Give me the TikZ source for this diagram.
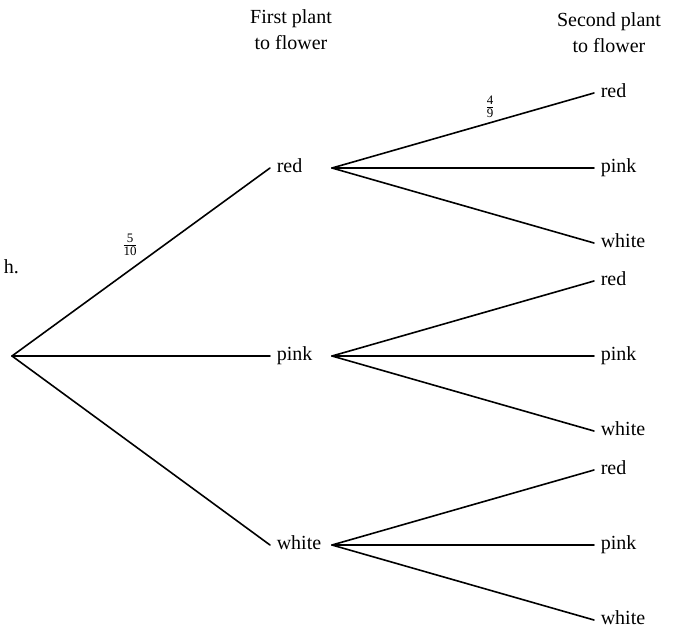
\documentclass[tikz,border=0pt]{standalone}
\usepackage{fontspec}
\setmainfont{Liberation Serif}
\begin{document}
\begin{tikzpicture}[x=1pt,y=-1pt,line join=round,line cap=round,line width=1.6pt,
	lbl/.style={anchor=west,inner xsep=6pt,inner ysep=0pt,text height=9pt,text depth=0pt,font=\fontsize{20}{26}\selectfont},
	head/.style={anchor=north,align=center,inner sep=0pt,font=\fontsize{20}{26}\selectfont},
	prob/.style={inner sep=0pt,font=\fontsize{18.5}{18.5}\selectfont}]
	\useasboundingbox (0,0) rectangle (675,630);
	% column headings
	\node[head] (first) at (291,9) {First plant\\to flower};
	\node[head] (second) at (609,12) {Second plant\\to flower};
	\node[anchor=base west,inner sep=0pt,font=\fontsize{20}{26}\selectfont] (part) at (3,273) {h.};
	% first plant
	\coordinate (root) at (12,356);
	\node[lbl] (red) at (270,168) {red};
	\node[lbl] (pink) at (270,356) {pink};
	\node[lbl] (white) at (270,545) {white};
	\draw (root) -- (red.west);
	\draw (root) -- (pink.west);
	\draw (root) -- (white.west);
	\node[prob] (p1) at (130,245) {$\frac{\mathrm{5}}{\mathrm{10}}$};
	% second plant
	\foreach \f/\y in {red/168,pink/356,white/545}{
		\coordinate (\f-o) at (332,\y);
		\node[lbl] (\f-red) at (594,{\y-75}) {red};
		\node[lbl] (\f-pink) at (594,\y) {pink};
		\node[lbl] (\f-white) at (594,{\y+75}) {white};
		\draw (\f-o) -- (\f-red.west);
		\draw (\f-o) -- (\f-pink.west);
		\draw (\f-o) -- (\f-white.west);
	}
	\node[prob] (p2) at (490,107) {$\frac{\mathrm{4}}{\mathrm{9}}$};
\end{tikzpicture}
\end{document}
